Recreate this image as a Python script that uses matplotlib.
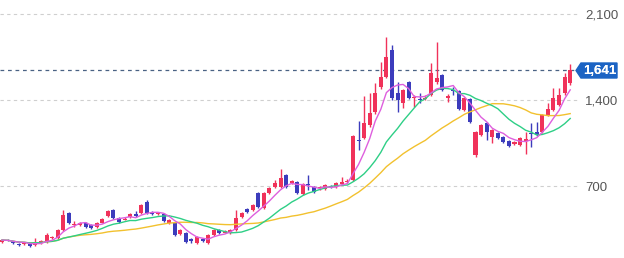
import matplotlib
matplotlib.use('Agg')
import matplotlib.pyplot as plt
import numpy as np
import pandas as pd
from matplotlib.patches import Polygon

plt.rcParams['font.family'] = ['Liberation Sans', 'DejaVu Sans']

# weekly OHLC
opens = [244, 262, 252, 232, 228, 230, 220, 240, 244, 275, 277, 342, 480, 383, 385, 399, 383, 366,
         399, 456, 505, 440, 425, 448, 470, 480, 570, 480, 470, 472, 399, 399, 309, 317, 265, 236,
         268, 236, 301, 342, 320, 317, 342, 448, 513, 505, 643, 521, 643, 692, 692, 789, 725, 733,
         635, 712, 692, 680, 676, 700, 692, 720, 730, 749, 1078, 1091, 1197, 1302, 1506, 1587, 1807, 1457,
         1376, 1547, 1416, 1412, 1410, 1441, 1547, 1604, 1416, 1485, 1473, 1319, 1408, 952, 1115, 1213,
         1099, 1131, 1099, 1066, 1040, 1034, 1066, 1135, 1140, 1140, 1278, 1319, 1359, 1457, 1538]
highs = [268, 270, 256, 240, 244, 236, 277, 262, 317, 293, 350, 505, 488, 415, 405, 405, 390, 405,
         440, 505, 513, 445, 445, 480, 496, 555, 586, 496, 488, 480, 431, 405, 350, 325, 277, 293,
         277, 309, 350, 350, 340, 350, 505, 488, 521, 553, 651, 651, 692, 749, 838, 797, 750, 741,
         724, 789, 700, 700, 716, 708, 733, 773, 760, 1115, 1229, 1433, 1457, 1538, 1709, 1913, 1848, 1547,
         1490, 1555, 1440, 1457, 1440, 1701, 1872, 1612, 1445, 1506, 1481, 1424, 1416, 1150, 1205, 1221,
         1165, 1140, 1107, 1074, 1066, 1099, 1140, 1213, 1221, 1286, 1376, 1498, 1498, 1620, 1693]
lows = [240, 250, 230, 212, 222, 205, 212, 232, 236, 265, 270, 334, 391, 370, 375, 360, 350, 360,
        395, 450, 431, 400, 420, 440, 450, 475, 472, 465, 460, 405, 390, 293, 300, 236, 236, 228,
        244, 228, 293, 309, 315, 310, 334, 440, 480, 496, 521, 513, 635, 684, 684, 684, 715, 635,
        627, 667, 643, 670, 667, 680, 684, 712, 724, 741, 993, 1080, 1180, 1290, 1490, 1580, 1400, 1302,
        1335, 1408, 1343, 1376, 1400, 1430, 1530, 1473, 1384, 1441, 1319, 1310, 1213, 940, 1107, 1074,
        1050, 1083, 1050, 1017, 1034, 1026, 960, 1017, 1107, 1131, 1270, 1310, 1350, 1440, 1520]
closes = [260, 256, 236, 220, 236, 212, 244, 250, 301, 280, 342, 464, 399, 388, 395, 366, 358, 399,
          431, 496, 440, 407, 435, 472, 455, 545, 480, 476, 474, 415, 423, 301, 342, 244, 250, 285,
          255, 301, 342, 317, 330, 342, 440, 480, 488, 545, 529, 643, 684, 724, 765, 692, 740, 643,
          716, 705, 651, 688, 708, 692, 724, 733, 741, 1107, 1070, 1213, 1294, 1457, 1587, 1750, 1416, 1400,
          1481, 1416, 1424, 1404, 1420, 1620, 1579, 1481, 1433, 1477, 1327, 1416, 1221, 1140, 1197, 1140,
          1156, 1091, 1058, 1026, 1055, 1091, 1080, 1127, 1115, 1278, 1327, 1416, 1441, 1587, 1641]
y_ticks = [700, 1400, 2100]
last_price = 1641

o = np.array(opens); h = np.array(highs); l = np.array(lows); c = np.array(closes)
x = np.arange(len(c))

red = '#f0325a'
blue = '#3c3cbc'
cols = np.where(c >= o, red, blue)

fig = plt.figure(figsize=(6.24, 2.58), dpi=100)
ax = fig.add_axes([0, 0, 578 / 624, 1])

for v in y_ticks:
    ax.axhline(v, color='#cfcfcf', lw=0.8, ls=(0, (3, 3)), zorder=0)
ax.axhline(last_price, color='#4a6284', lw=0.9, ls=(0, (3, 3)), zorder=1)

ax.vlines(x, l, h, colors=cols, lw=1, zorder=2)
ax.bar(x, np.maximum(np.abs(c - o), 8), bottom=np.minimum(o, c), width=0.72,
       color=cols, lw=0, zorder=3)

s = pd.Series(closes)
ax.plot(x, s.rolling(26, min_periods=1).mean(), color='#f2c12e', lw=1, zorder=4)
ax.plot(x, s.rolling(13, min_periods=1).mean(), color='#2ecf86', lw=1, zorder=4)
ax.plot(x, s.rolling(5, min_periods=1).mean(), color='#de5fde', lw=1, zorder=5)

ax.set_xlim(-0.36, 103.4)
ax.set_ylim(114, 2214)
ax.set_xticks([])
ax.set_yticks(y_ticks)
ax.set_yticklabels([f'{v:,}' for v in y_ticks])
ax.yaxis.tick_right()
ax.tick_params(axis='y', length=0, pad=5, labelsize=9.5, labelcolor='#555555')
for sp in ax.spines.values():
    sp.set_visible(False)

# last price tag
yc = 1 - 70.5 / 258
pts = [(576, 70.5), (581, 63), (617, 63), (617, 78), (581, 78)]
tag = Polygon([(px / 624, 1 - py / 258) for px, py in pts], closed=True,
              transform=fig.transFigure, color='#1c64c4', zorder=10)
fig.add_artist(tag)
lbl = fig.text(599.5 / 624, yc, f'{last_price:,}', color='white', fontsize=9.5, fontweight='bold',
               ha='center', va='center')
lbl.set_zorder(11)
fig.add_artist(lbl)

fig.savefig('out.png', dpi=100)
